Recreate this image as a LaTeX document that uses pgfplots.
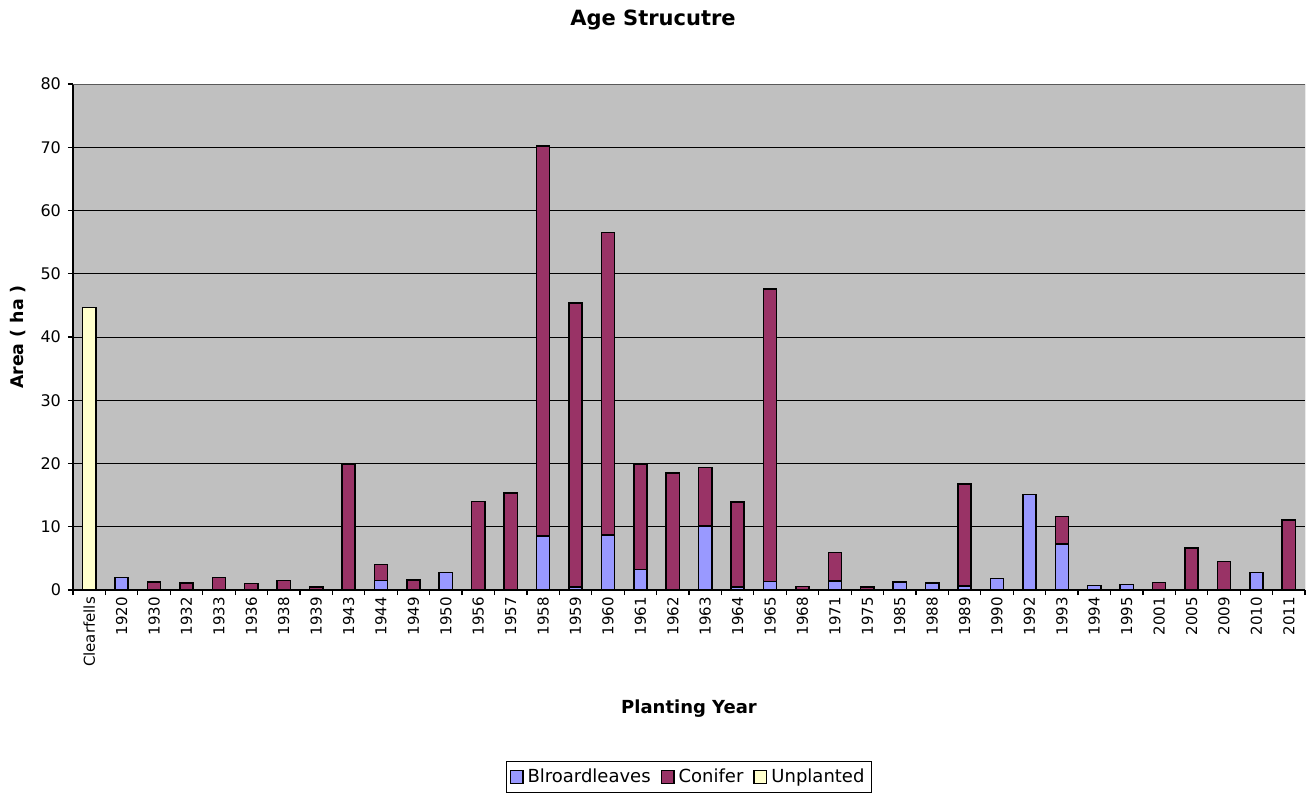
\documentclass[border=0pt]{standalone}
\usepackage{pgfplots}
\pgfplotsset{compat=1.18}
\usepackage{pgfplotstable}
\usepackage{fontspec}
\setmainfont{DejaVu Sans}
\definecolor{broad}{HTML}{9999FF}
\definecolor{conif}{HTML}{993366}
\definecolor{unpl}{HTML}{FFFFCC}
\definecolor{bg}{HTML}{C0C0C0}

\pgfplotstableread{
idx B C U
0 0 0 44.7
1 2.0 0 0
2 0 1.3 0
3 0 1.1 0
4 0 1.95 0
5 0 1.0 0
6 0 1.47 0
7 0 0.5 0
8 0 19.85 0
9 1.47 2.58 0
10 0 1.6 0
11 2.74 0 0
12 0 13.96 0
13 0 15.3 0
14 8.54 61.66 0
15 0.47 44.93 0
16 8.7 47.85 0
17 3.26 16.64 0
18 0 18.5 0
19 10.1 9.3 0
20 0.5 13.4 0
21 1.36 46.24 0
22 0 0.57 0
23 1.42 4.48 0
24 0 0.47 0
25 1.27 0 0
26 1.1 0 0
27 0.63 16.12 0
28 1.84 0 0
29 15.07 0 0
30 7.27 4.38 0
31 0.68 0 0
32 0.84 0 0
33 0 1.2 0
34 0 6.64 0
35 0 4.52 0
36 2.74 0 0
37 0 11.07 0
}\datatable

\begin{document}
\begin{tikzpicture}
\path (-36.5pt,-101pt) rectangle (618.5pt,295pt);
\begin{axis}[
  at={(0,0)}, anchor=south west,
  scale only axis, width=616pt, height=253pt,
  ybar stacked, bar width=6.6pt,
  xmin=-0.5, xmax=37.5, ymin=0, ymax=80,
  axis background/.style={fill=bg},
  axis lines*=left,
  axis line style={black, line width=0.6pt},
  ytick={0,10,...,80},
  minor ytick={0,10,...,80},
  xtick={0,...,37},
  minor xtick={-0.5,0.5,...,37.5},
  major tick length=0pt,
  minor tick length=2.6pt,
  tick align=outside,
  every tick/.style={black, line width=0.6pt},
  ymajorgrids,
  major grid style={black, line width=0.5pt},
  xticklabels={Clearfells,1920,1930,1932,1933,1936,1938,1939,1943,1944,1949,1950,1956,1957,1958,1959,1960,1961,1962,1963,1964,1965,1968,1971,1975,1985,1988,1989,1990,1992,1993,1994,1995,2001,2005,2009,2010,2011},
  x tick label style={rotate=90, anchor=east, font=\fontsize{7.5}{9}\selectfont},
  y tick label style={font=\fontsize{8}{9.5}\selectfont, xshift=-2.5pt},
  /pgf/number format/assume math mode=true,
  xlabel={Planting Year},
  xlabel style={at={(axis description cs:0.5,-0.2352)}, anchor=center, font=\bfseries\fontsize{9}{11}\selectfont},
  ylabel={Area ( ha )},
  ylabel style={at={(axis description cs:-0.0446,0.5)}, anchor=center, font=\bfseries\fontsize{8.7}{11}\selectfont},
  legend columns=-1,
  legend style={at={(axis description cs:0.5,-0.3696)}, anchor=center, draw=black, line width=0.5pt,
    font=\fontsize{9}{10.5}\selectfont, inner sep=1.5pt,
    /tikz/every even column/.append style={column sep=3pt}},
  sq/.style={legend image code/.code={\draw[##1,draw=black,line width=0.6pt] (0pt,-3.2pt) rectangle (6.4pt,3.2pt);}},
]
\addplot[fill=broad, draw=black, line width=0.75pt, sq] table[x=idx,y=B]{\datatable};
\addplot[fill=conif, draw=black, line width=0.75pt, sq] table[x=idx,y=C]{\datatable};
\addplot[fill=unpl, draw=black, line width=0.75pt, sq] table[x=idx,y=U]{\datatable};
\legend{Blroardleaves,Conifer,Unplanted}
\draw[gray!70!black, line width=0.5pt] (rel axis cs:1,0) -- (rel axis cs:1,1);
\draw[gray!70!black, line width=0.5pt] (rel axis cs:0,1) -- (rel axis cs:1,1);
\end{axis}
\node[font=\bfseries\fontsize{10.5}{12}\selectfont] at (290pt,285pt) {Age Strucutre};
\end{tikzpicture}
\end{document}
